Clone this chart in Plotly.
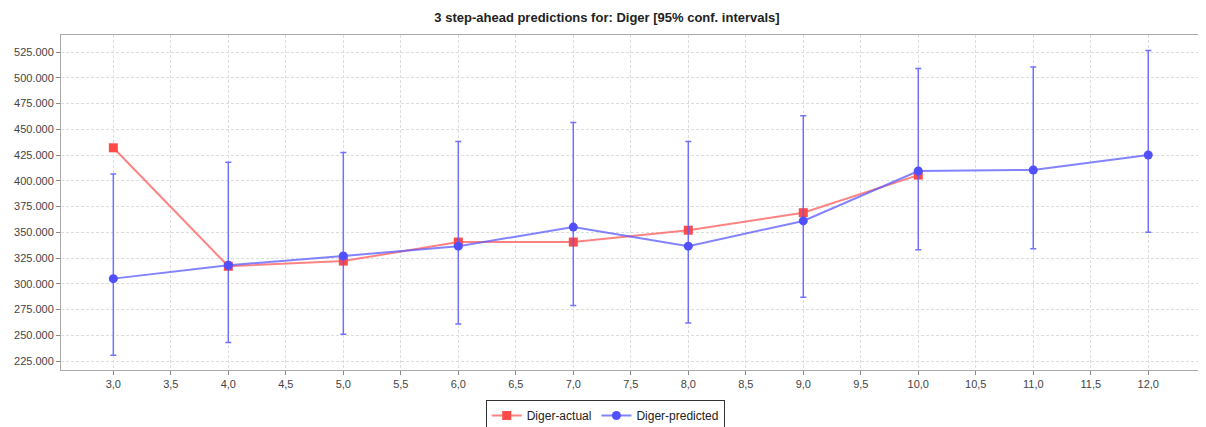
import plotly.graph_objects as go

steps = [3, 4, 5, 6, 7, 8, 9, 10, 11, 12]
actual_x = [3, 4, 5, 6, 7, 8, 9, 10]
actual_y = [432, 317, 322, 340.5, 340.5, 352, 369, 405.5]
pred_y = [305, 318, 327, 336.5, 355, 336.5, 361, 409.5, 410.5, 425]
pred_upper = [406.5, 418, 427.5, 438, 456.5, 438, 463, 509, 510.5, 526.5]
pred_lower = [230.5, 243, 251, 261, 279, 262, 287, 333, 334, 350]

x_ticks = [3.0, 3.5, 4.0, 4.5, 5.0, 5.5, 6.0, 6.5, 7.0, 7.5, 8.0, 8.5, 9.0, 9.5, 10.0, 10.5, 11.0, 11.5, 12.0]
x_tick_labels = ["3,0", "3,5", "4,0", "4,5", "5,0", "5,5", "6,0", "6,5", "7,0", "7,5", "8,0", "8,5", "9,0", "9,5", "10,0", "10,5", "11,0", "11,5", "12,0"]
y_ticks = [225, 250, 275, 300, 325, 350, 375, 400, 425, 450, 475, 500, 525]
y_tick_labels = ["225.000", "250.000", "275.000", "300.000", "325.000", "350.000", "375.000", "400.000", "425.000", "450.000", "475.000", "500.000", "525.000"]

err_plus = [u - p for u, p in zip(pred_upper, pred_y)]
err_minus = [p - l for p, l in zip(pred_y, pred_lower)]

fig = go.Figure()
fig.add_trace(go.Scatter(
    x=actual_x, y=actual_y, mode="lines+markers", name="Diger-actual",
    line=dict(color="rgba(255,90,90,0.75)", width=2),
    marker=dict(symbol="square", size=9, color="#FF4A4A"),
))
fig.add_trace(go.Scatter(
    x=steps, y=pred_y, mode="lines+markers", name="Diger-predicted",
    line=dict(color="rgba(90,90,255,0.75)", width=2),
    marker=dict(symbol="circle", size=9, color="#5050FF"),
    error_y=dict(type="data", symmetric=False, array=err_plus, arrayminus=err_minus,
                 color="rgba(90,90,255,0.85)", thickness=1.5, width=3),
))

# page body has an 8px margin, so the figure is drawn 8px smaller and offset
fig.update_layout(
    width=1198, height=419,
    margin=dict(l=53, r=6, t=27, b=57),
    paper_bgcolor="white", plot_bgcolor="white",
    title=dict(text="<b>3 step-ahead predictions for: Diger [95% conf. intervals]</b>",
               x=0.5, xanchor="center", y=0.978, yanchor="middle", automargin=False,
               font=dict(family="Liberation Sans, Arial", size=13, color="#222")),
    font=dict(family="Liberation Sans, Arial, sans-serif", size=11, color="#444"),
    showlegend=True,
    legend=dict(orientation="h", xref="container", yref="container",
                x=0.4985, xanchor="center", y=0.0645, yanchor="top",
                bordercolor="#333", borderwidth=1, bgcolor="white",
                font=dict(family="Liberation Sans, Arial", size=12, color="#222"),
                itemwidth=30, tracegroupgap=0),
    xaxis=dict(range=[2.545, 12.45], tickvals=x_ticks, ticktext=x_tick_labels, automargin=False,
               showgrid=True, gridcolor="#dddddd", griddash="3px,2px", gridwidth=1,
               zeroline=False, showline=True, linecolor="#aaaaaa", linewidth=1, mirror=True,
               ticks="outside", ticklen=4, tickcolor="#888", tickfont=dict(size=11, color="#444")),
    yaxis=dict(range=[216.3, 541.5], tickvals=y_ticks, ticktext=y_tick_labels, automargin=False,
               showgrid=True, gridcolor="#dddddd", griddash="3px,2px", gridwidth=1,
               zeroline=False, showline=True, linecolor="#aaaaaa", linewidth=1, mirror=True,
               ticks="outside", ticklen=4, tickcolor="#888", tickfont=dict(size=11, color="#444")),
)

fig.write_html("out.html")
